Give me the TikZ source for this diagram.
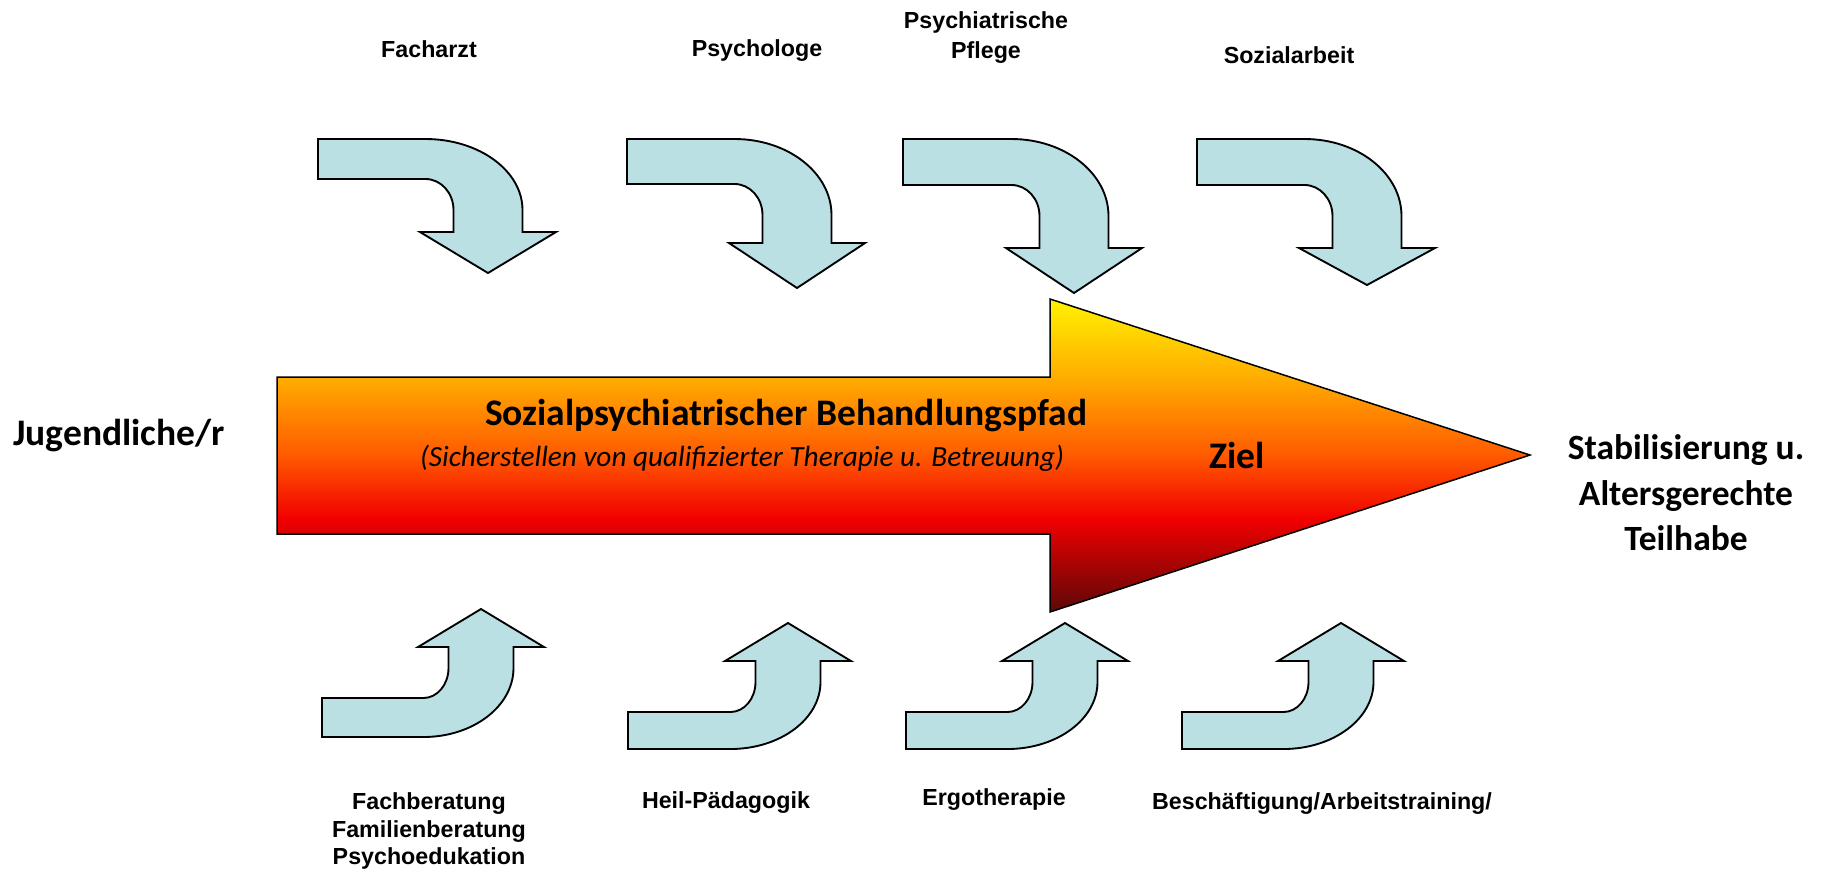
\documentclass[tikz,border=0pt]{standalone}
\usepackage{fontspec}
\setmainfont{Carlito}
\newfontfamily\arialfont{Liberation Sans}
\definecolor{lightblue}{RGB}{186,224,228}
\definecolor{cYel}{HTML}{FFF200}
\definecolor{cOrA}{HTML}{FFAD00}
\definecolor{cOrB}{HTML}{FF5A00}
\definecolor{cRed}{HTML}{F20000}
\definecolor{cDark}{HTML}{5C0808}
\pgfdeclareverticalshading{bigarrowshade}{100bp}{color(0bp)=(cDark); color(25bp)=(cDark); color(40bp)=(cRed); color(50bp)=(cOrB); color(62.5bp)=(cOrA); color(75bp)=(cYel); color(100bp)=(cYel)}
\tikzset{
  bluearrow/.style={draw=black, line width=0.75pt, fill=lightblue, line join=miter},
  smalllabel/.style={font=\arialfont\bfseries\fontsize{9.3}{11}\selectfont, align=center, inner sep=0pt},
  biglabel/.style={font=\bfseries\fontsize{15}{18.2}\selectfont, align=center, inner sep=0pt}
}
% top arrows: #1 left, #2 band top, #3 band bottom, #4 centre x, #5 wing y, #6 tip y
\newcommand{\toparr}[6]{%
  \draw[bluearrow] (#1,#2) -- ({#4-62.5},#2)
    .. controls ({#4-62.5+0.552*97},#2) and ({#4+34.5},{#3+31-0.552*(#3+31-#2)}) .. ({#4+34.5},{#3+31})
    -- ({#4+34.5},#5) -- ({#4+68},#5) -- (#4,#6) -- ({#4-68},#5) -- ({#4-34.5},#5)
    -- ({#4-34.5},{#3+31})
    .. controls ({#4-34.5},{#3+31-0.552*31}) and ({#4-62.5+0.552*28},#3) .. ({#4-62.5},#3)
    -- (#1,#3) -- cycle;}
% bottom arrows: #1 left, #2 band top, #3 band bottom, #4 centre x, #5 wing y, #6 tip y
\newcommand{\botarr}[6]{%
  \draw[bluearrow] (#1,#3) -- ({#4-57.5},#3)
    .. controls ({#4-57.5+0.552*90},#3) and ({#4+32.5},{#2-30+0.552*(#3-#2+30)}) .. ({#4+32.5},{#2-30})
    -- ({#4+32.5},#5) -- ({#4+63},#5) -- (#4,#6) -- ({#4-63},#5) -- ({#4-32.5},#5)
    -- ({#4-32.5},{#2-30})
    .. controls ({#4-32.5},{#2-30+0.552*30}) and ({#4-57.5+0.552*25},#2) .. ({#4-57.5},#2)
    -- (#1,#2) -- cycle;}
\begin{document}
\begin{tikzpicture}[x=0.4pt,y=-0.4pt]
\useasboundingbox (0,0) rectangle (1827,869);
% big gradient arrow
\draw[line width=0.6pt, shading=bigarrowshade]
  (277,377) -- (1050,377) -- (1050,299) -- (1530,455) -- (1050,612) -- (1050,534) -- (277,534) -- cycle;
% top bent arrows
\toparr{318}{139}{179}{488}{232}{273}
\toparr{627}{139}{184}{797}{243}{288}
\toparr{903}{139}{185}{1074}{248}{293}
\toparr{1197}{139}{185}{1367}{248}{285}
% bottom bent arrows
\botarr{322}{698}{737}{481}{647}{609}
\botarr{628}{712}{749}{788}{661}{623}
\botarr{906}{712}{749}{1065}{661}{623}
\botarr{1182}{712}{749}{1341}{661}{623}
% labels top
\node[smalllabel] (facharzt) at (429,49) {Facharzt};
\node[smalllabel] (psychologe) at (757,51) {Psychologe};
\node[smalllabel, font=\arialfont\bfseries\fontsize{9.3}{12}\selectfont] (pflege) at (986,38) {Psychiatrische\\Pflege};
\node[smalllabel] (sozialarbeit) at (1289,55) {Sozialarbeit};
% labels bottom
\node[smalllabel] (fachberatung) at (429,831) {Fachberatung\\Familienberatung\\Psychoedukation};
\node[smalllabel] (heilpaed) at (726,803) {Heil-Pädagogik};
\node[smalllabel] (ergo) at (994,800) {Ergotherapie};
\node[smalllabel] (besch) at (1322,804) {Beschäftigung/Arbeitstraining/};
% main labels
\node[biglabel] (jugend) at (119,436) {Jugendliche/r};
\node[biglabel, font=\bfseries\fontsize{14.2}{18.2}\selectfont] (ziel2) at (1686,493) {Stabilisierung u.\\Altersgerechte\\Teilhabe};
\node[biglabel] (pfad) at (786,416) {Sozialpsychiatrischer Behandlungspfad};
\node[font=\itshape\fontsize{11.7}{14}\selectfont, inner sep=0pt] (sicher) at (742,458) {(Sicherstellen von qualifizierter Therapie u. Betreuung)};
\node[biglabel] (ziel) at (1237,455) {Ziel};
\end{tikzpicture}
\end{document}
